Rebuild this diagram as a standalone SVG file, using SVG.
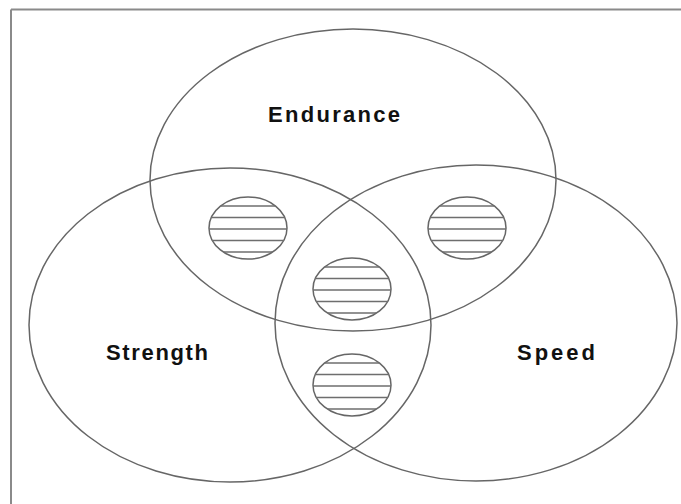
<svg xmlns="http://www.w3.org/2000/svg" width="681" height="504" viewBox="0 0 681 504">
  <style>
    .set { fill: none; stroke: #666666; stroke-width: 1.5; }
    .spot { fill: #ffffff; stroke: #666666; stroke-width: 1.5; }
    .hatch line { stroke: #6e6e6e; stroke-width: 1.7; }
    .label { font-family: "Liberation Sans", Arial, sans-serif; font-weight: bold; font-size: 22px; fill: #111111; }
    .frame { stroke: #8a8a8a; stroke-width: 2; fill: none; }
  </style>
  <defs>
    <clipPath id="spotClip">
      <ellipse cx="0" cy="0" rx="39" ry="31"/>
    </clipPath>
    <g id="hatchLines" class="hatch">
      <line x1="-40" y1="-22" x2="40" y2="-22"/>
      <line x1="-40" y1="-10.5" x2="40" y2="-10.5"/>
      <line x1="-40" y1="1" x2="40" y2="1"/>
      <line x1="-40" y1="12.5" x2="40" y2="12.5"/>
      <line x1="-40" y1="24" x2="40" y2="24"/>
    </g>
  </defs>
  <rect x="0" y="0" width="681" height="504" fill="#ffffff"/>
  <g id="frame">
    <line class="frame" x1="11" y1="9.5" x2="681" y2="9.5"/>
    <line class="frame" x1="11" y1="9.5" x2="11" y2="504"/>
  </g>
  <g id="endurance">
    <ellipse class="set" cx="353" cy="180" rx="203" ry="151"/>
    <text class="label" x="268" y="122" textLength="132" lengthAdjust="spacing">Endurance</text>
  </g>
  <g id="strength">
    <ellipse class="set" cx="230" cy="325" rx="201" ry="157"/>
    <text class="label" x="106" y="360" textLength="102" lengthAdjust="spacing">Strength</text>
  </g>
  <g id="speed">
    <ellipse class="set" cx="476" cy="323" rx="201" ry="158"/>
    <text class="label" x="517" y="360" textLength="78" lengthAdjust="spacing">Speed</text>
  </g>
  <g id="spot-endurance-strength" transform="translate(248,228)">
    <ellipse class="spot" cx="0" cy="0" rx="39" ry="31"/>
    <use href="#hatchLines" clip-path="url(#spotClip)"/>
  </g>
  <g id="spot-endurance-speed" transform="translate(467,228)">
    <ellipse class="spot" cx="0" cy="0" rx="39" ry="31"/>
    <use href="#hatchLines" clip-path="url(#spotClip)"/>
  </g>
  <g id="spot-all" transform="translate(352,289)">
    <ellipse class="spot" cx="0" cy="0" rx="39" ry="31"/>
    <use href="#hatchLines" clip-path="url(#spotClip)"/>
  </g>
  <g id="spot-strength-speed" transform="translate(352,385)">
    <ellipse class="spot" cx="0" cy="0" rx="39" ry="31"/>
    <use href="#hatchLines" clip-path="url(#spotClip)"/>
  </g>
</svg>
